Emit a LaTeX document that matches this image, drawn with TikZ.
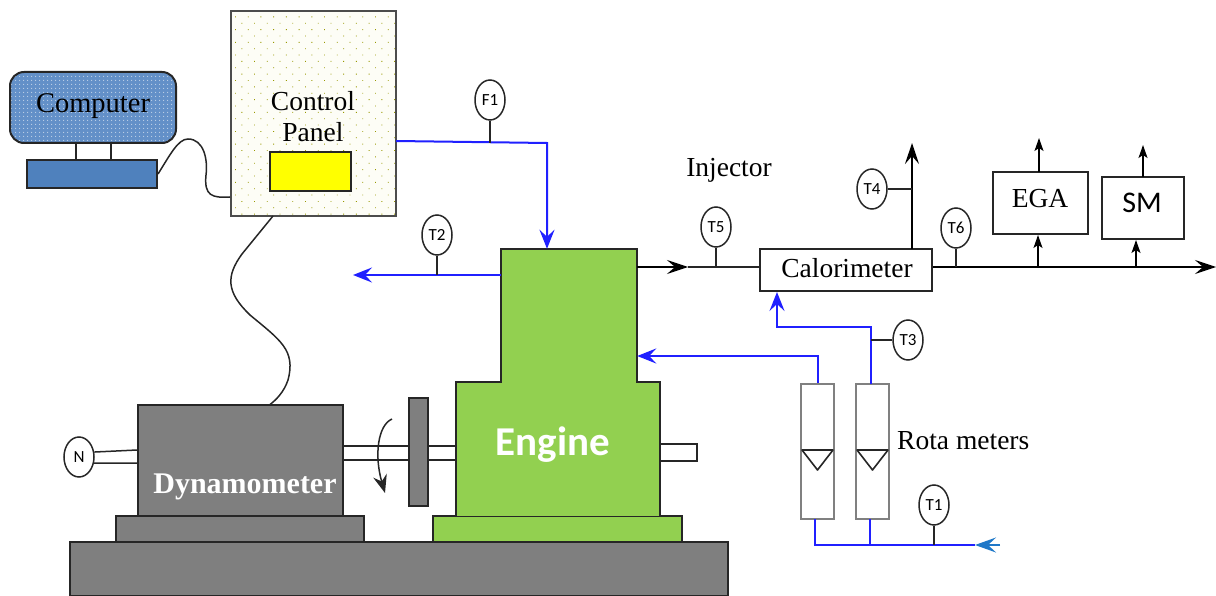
\documentclass[tikz,border=0pt]{standalone}
\usepackage{fontspec}
\setmainfont{Liberation Serif}
\newfontfamily\labelfont{Carlito}
\usetikzlibrary{arrows.meta,positioning,shapes.geometric,patterns.meta,calc}
\definecolor{benchgray}{HTML}{7F7F7F}
\definecolor{enginegreen}{HTML}{92D050}
\definecolor{pipeblue}{HTML}{2020FF}
\definecolor{inletblue}{HTML}{1F78C8}
\definecolor{pcblue}{HTML}{4F81BD}
\definecolor{screenblue}{HTML}{6390C8}
\definecolor{panelcream}{HTML}{FDFDF6}
\definecolor{displayyellow}{HTML}{FFFF00}
\tikzset{
  box/.style={draw=black!85, line width=2pt, inner sep=0pt, align=center},
  bench/.style={box, fill=benchgray},
  sensor/.style={draw=black!85, ellipse, fill=white, line width=1.5pt, minimum width=30pt, minimum height=40pt, inner sep=0pt, font=\labelfont\fontsize{17}{17}\selectfont},
  rota/.style={draw=black!50, fill=white, line width=2pt, minimum width=33pt, minimum height=135pt, inner sep=0pt},
  caption/.style={inner sep=0pt, align=center, font=\fontsize{27.5}{30}\selectfont},
  wire/.style={black!85, line width=1.5pt},
  pipe/.style={pipeblue, line width=2pt},
  float/.style={black!85, line width=1.6pt, line join=round},
  arrow/.style={black, line width=1.6pt, -{Stealth[length=21pt,width=14pt,inset=8pt]}},
  smallarrow/.style={black, line width=1.6pt, -{Stealth[length=13pt,width=9pt,inset=3pt]}},
  bluearrow/.style={pipe, -{Stealth[length=19pt,width=15pt,inset=7pt]}}
}
\begin{document}
\begin{tikzpicture}[x=1pt,y=-1pt]
    \useasboundingbox (0,0) rectangle (1216,596);
    % Computer
    \node[box, rounded corners=14pt, preaction={fill=screenblue}, preaction={pattern={Dots[distance=4pt,radius=.7pt]}, pattern color=white!60!screenblue}, minimum width=166pt, minimum height=71pt] (screen) at (93,107.5) {};
    \node[caption, font=\fontsize{28.5}{30}\selectfont] (screenlabel) at (93,106) {Computer};
    \node[box, fill=pcblue, minimum width=130pt, minimum height=28pt] (pc) at (92,174) {};
    \draw[wire] (76,143) coordinate (standa) -- (standa |- pc.north);
    \draw[wire] (111,143) coordinate (standb) -- (standb |- pc.north);

    % Control panel
    \node[box, draw=black!70, preaction={fill=panelcream}, preaction={pattern={Dots[angle=45,distance=9pt,radius=.6pt]}, pattern color=olive!80}, minimum width=165pt, minimum height=205pt] (panel) at (313.5,113.5) {};
    \node[caption] (panellabel) at (313,117) {Control\\[1pt]Panel};
    \node[box, fill=displayyellow, minimum width=81pt, minimum height=39pt] (display) at (310.5,171.5) {};

    % Bench
    \node[bench, minimum width=658pt, minimum height=54pt] (floor) at (399,569) {};
    \node[bench, minimum width=248pt, minimum height=26pt] (dynobase) at (240,529) {};
    \node[box, fill=enginegreen, minimum width=249pt, minimum height=26pt] (enginebase) at (557.5,529) {};

    % Shafts
    \node[box, fill=white, line width=1.6pt, minimum width=113pt, minimum height=14pt] (shaft) at (399.5,453) {};
    \node[box, fill=white, line width=1.6pt, minimum width=37pt, minimum height=17pt] (shaftend) at (678.5,452.5) {};
    \node[bench, minimum width=19pt, minimum height=108pt] (flywheel) at (418.5,452) {};

    % Dynamometer
    \node[bench, minimum width=205pt, minimum height=111pt] (dyno) at (240.5,460.5) {};
    \node[inner sep=0pt, text=white, font=\bfseries\fontsize{30}{30}\selectfont] (dynolabel) at (245,487) {Dynamometer};
    \node[sensor] (speed) at (79,457) {N};
    \draw[wire] (speed.18) -- (dyno.west |- 0,450);
    \draw[wire] (speed.-22) -- (dyno.west |- 0,463);
    \draw[wire, -{Stealth[length=18pt,width=14pt,inset=6pt]}] (392,419) coordinate (spin) .. controls (378,425) and (374,455) .. (385,493);

    % Engine
    \node[fill=enginegreen, inner sep=0pt, minimum width=204pt, minimum height=134pt] (enginelow) at (558,449) {};
    \node[fill=enginegreen, inner sep=0pt, minimum width=136pt, minimum height=134pt] (enginetop) at (569,316) {};
    \draw[black!85, line width=2pt] (enginelow.south west) -- (enginelow.north west) -- (enginetop.west |- enginelow.north) -- (enginetop.north west) -- (enginetop.north east) -- (enginetop.east |- enginelow.north) -- (enginelow.north east) -- (enginelow.south east);
    \node[inner sep=0pt, text=white, font=\labelfont\bfseries\fontsize{41}{44}\selectfont] (enginelabel) at (553,445) {Engine};

    % Cables
    \draw[wire] (pc.east) .. controls (170,155) and (178,139) .. (188,139) .. controls (204,139) and (208,160) .. (206,175) .. controls (204,196) and (212,198) .. (panel.west |- 0,197);
    \draw[wire] (273,216) coordinate (panelout) -- (242,254) .. controls (226,276) and (226,292) .. (250,315) .. controls (280,340) and (296,350) .. (288,380) .. controls (284,392) and (276,400) .. (270,404.5) coordinate (dynoin);

    % Sensors
    \node[sensor] (f1) at (490,100) {F1};
    \node[sensor] (t2) at (437,235) {T2};
    \node[sensor] (t5) at (716,227) {T5};
    \node[sensor] (t6) at (956,228) {T6};
    \node[sensor] (t4) at (872,189) {T4};
    \node[sensor] (t3) at (908,340) {T3};
    \node[sensor] (t1) at (934,505) {T1};

    % Exhaust line
    \node[box, fill=white, minimum width=172pt, minimum height=42pt] (calorimeter) at (846,270) {};
    \node[caption] (calorimeterlabel) at (847,268) {Calorimeter};
    \node[box, fill=white, minimum width=95pt, minimum height=62pt] (ega) at (1040.5,203) {};
    \node[caption] (egalabel) at (1040,199) {EGA};
    \node[box, fill=white, minimum width=82pt, minimum height=62pt] (sm) at (1143,208) {};
    \node[inner sep=0pt, font=\labelfont\fontsize{30}{30}\selectfont] (smlabel) at (1142,203) {SM};
    \coordinate (out) at (637,267);
    \coordinate (mid) at (688,267);
    \coordinate (exit) at (1216,267);
    \draw[arrow] (out) -- (mid);
    \draw[wire] (mid) -- (calorimeter.west |- mid);
    \draw[arrow] (calorimeter.east |- mid) -- (exit);
    \draw[wire] (t5.south) -- (t5.south |- mid);
    \draw[wire] (t6.south) -- (t6.south |- mid);
    \draw[arrow] (912,249) coordinate (stack) -- (912,143) coordinate (stacktop);
    \draw[wire] (t4.east) -- (stack |- t4.east);
    \draw[smallarrow] (1038,267) coordinate (egain) -- (egain |- ega.south);
    \draw[smallarrow] (1039,172) coordinate (egaout) -- (1039,138) coordinate (egaend);
    \draw[smallarrow] (1136,267) coordinate (smin) -- (smin |- sm.south);
    \draw[smallarrow] (1143,177) coordinate (smout) -- (1143,145) coordinate (smend);

    % Rota meters
    \node[rota] (rota1) at (817.5,451.5) {};
    \node[rota, right=20pt of rota1] (rota2) {};
    \draw[float] ([xshift=2pt]rota1.west |- 0,450) -- ([xshift=-2pt]rota1.east |- 0,450) -- (rota1.south |- 0,470) -- cycle;
    \draw[float] ([xshift=2pt]rota2.west |- 0,450) -- ([xshift=-2pt]rota2.east |- 0,450) -- (rota2.south |- 0,470) -- cycle;
    \node[caption, anchor=west] (rotalabel) at (897,441) {Rota meters};
    \node[caption] (injector) at (729,170) {Injector};

    % Blue pipes
    \draw[bluearrow] (396,141) coordinate (fuelout) -- (547,143) coordinate (fuelbend) -- (fuelbend |- enginetop.north);
    \draw[wire] (f1.south) -- (f1.south |- fuelbend);
    \draw[bluearrow] (enginetop.west |- 0,275) coordinate (drain) -- (353,275) coordinate (drainend);
    \draw[wire] (t2.south) -- (t2.south |- drain);
    \draw[bluearrow] (rota1.north) -- (rota1.north |- 0,356) -- (enginetop.east |- 0,356);
    \draw[bluearrow] (871,384) coordinate (rotaout) -- (rotaout |- 0,327) -- (777,327) coordinate (calbend) -- (calbend |- calorimeter.south);
    \draw[wire] (t3.west) -- (rotaout |- t3.west);
    \coordinate (inlet) at (975,545);
    \draw[pipe] (815,519) coordinate (low1) -- (low1 |- inlet) -- (inlet);
    \draw[pipe] (870,519) coordinate (low2) -- (low2 |- inlet);
    \draw[wire] (t1.south) -- (t1.south |- inlet);
    \draw[inletblue, line width=2pt, -{Stealth[length=21pt,width=15pt,inset=8pt]}] (1000,545) coordinate (inletend) -- (inlet);
  \end{tikzpicture}
\end{document}
